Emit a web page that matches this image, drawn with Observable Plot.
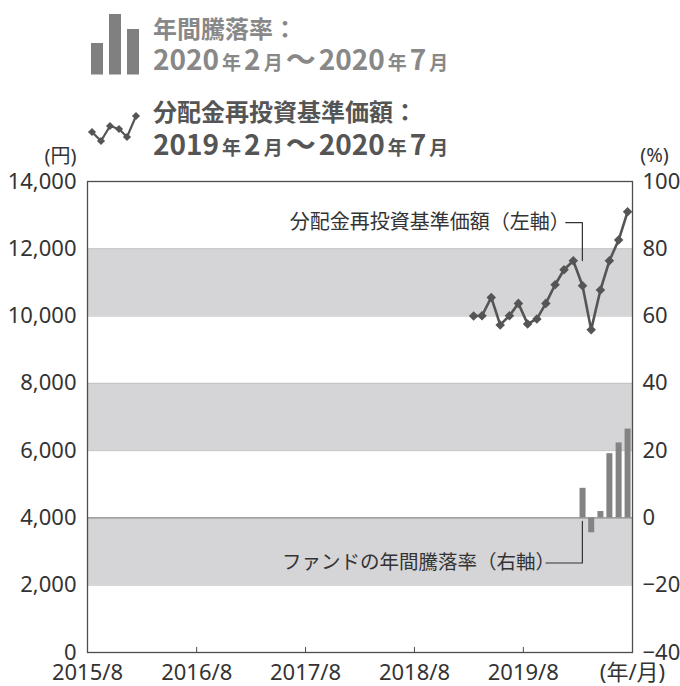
<!DOCTYPE html>
<html>
<head>
<meta charset="utf-8">
<script src="https://cdn.jsdelivr.net/npm/d3@7"></script>
<script src="https://cdn.jsdelivr.net/npm/@observablehq/plot@0.6"></script>
<style>
  html, body { margin: 0; padding: 0; background: #fff; }
  #wrap { position: relative; width: 680px; height: 686px; }
  #legend { position: absolute; left: 0; top: 0; pointer-events: none; }
</style>
</head>
<body>
<div id="wrap"></div>
<script>
// ---------- data ----------
const navMonths = ["2019/2","2019/3","2019/4","2019/5","2019/6","2019/7","2019/8","2019/9","2019/10","2019/11","2019/12","2020/1","2020/2","2020/3","2020/4","2020/5","2020/6","2020/7"];
const navValues = [10000, 10010, 10555, 9736, 10012, 10377, 9765, 9914, 10377, 10932, 11377, 11644, 10902, 9596, 10775, 11644, 12259, 13099];
const returnMonths = ["2020/2","2020/3","2020/4","2020/5","2020/6","2020/7"];
const returnValues = [8.8, -4.4, 1.9, 19.1, 22.3, 26.4];
const yenTicks = [0, 2000, 4000, 6000, 8000, 10000, 12000, 14000];
const pctTicks = [-40, -20, 0, 20, 40, 60, 80, 100];
const xTickMonths = ["2015/8","2016/8","2017/8","2018/8","2019/8","2020/8"];
const xTickLabels = ["2015/8","2016/8","2017/8","2018/8","2019/8","(年/月)"];
const bandRanges = [[2000, 4000], [6000, 8000], [10000, 12000]];
const navNote = {text: "分配金再投資基準価額（左軸）", textEnd: "2019-12-21", bend: "2020-02-15", y: 12780, yEnd: 11650};
const retNote = {text: "ファンドの年間騰落率（右軸）", textEnd: "2019-10-16", bend: "2020-02-15", y: 2660, yEnd: 3900};

// ---------- helpers ----------
const monthStart = s => { const [y, m] = s.split("/").map(Number); return new Date(Date.UTC(y, m - 1, 1)); };
const monthMid = s => { const [y, m] = s.split("/").map(Number); return new Date(Date.UTC(y, m - 1, 15, 12)); };
// right axis (%) mapped onto left axis (yen): -40% -> 0, 100% -> 14000
const pctToYen = p => (p + 40) * 100;
const fmtSigned = v => (v < 0 ? "\u2212" + Math.abs(v) : String(v));

const nav = navMonths.map((m, i) => ({date: monthMid(m), value: navValues[i]}));
const rets = returnMonths.map((m, i) => ({date: monthMid(m), pct: returnValues[i]}));
const xTicks = xTickMonths.map(monthStart);
const xLabelOf = new Map(xTicks.map((d, i) => [+d, xTickLabels[i]]));
const pctLabelOf = new Map(yenTicks.map((y, i) => [y, fmtSigned(pctTicks[i])]));
const fmtYen = d3.format(",");

const FONT = "'Noto Sans', 'Noto Sans CJK JP', sans-serif";
const CJK = "'Noto Sans CJK JP', 'Noto Sans', sans-serif";

const chart = Plot.plot({
  width: 680,
  height: 686,
  marginLeft: 87,
  marginRight: 48,
  marginTop: 181,
  marginBottom: 34,
  style: {fontFamily: FONT, fontSize: "22px", color: "#333", background: "transparent"},
  x: {type: "utc", domain: [monthStart("2015/8"), monthStart("2020/8")]},
  y: {domain: [0, 14000]},
  marks: [
    Plot.rectY(bandRanges, {y1: d => d[0], y2: d => d[1], fill: "#d5d5d7"}),
    Plot.ruleY(bandRanges.flat().filter(v => v !== pctToYen(0)), {stroke: "#c2c2c4", strokeWidth: 1}),
    Plot.ruleY([pctToYen(0)], {stroke: "#8c8c8c", strokeWidth: 1.2}),
    Plot.ruleX(xTicks.slice(1, 5), {y1: 0, y2: 150, stroke: "#4d4d4d", strokeWidth: 1}),
    Plot.ruleX(rets, {x: "date", y1: pctToYen(0), y2: d => pctToYen(d.pct), stroke: "#838383", strokeWidth: 6}),
    Plot.line(nav, {x: "date", y: "value", stroke: "#555", strokeWidth: 2.6}),
    Plot.dot(nav, {x: "date", y: "value", symbol: "diamond2", r: 4.3, fill: "#555", stroke: "none"}),
    // annotations
    Plot.line([[new Date(navNote.textEnd), navNote.y], [new Date(navNote.bend), navNote.y], [new Date(navNote.bend), navNote.yEnd]],
      {stroke: "#333", strokeWidth: 1.2}),
    Plot.text([navNote], {x: d => new Date(d.textEnd), y: "y", text: "text", textAnchor: "end", dx: 4, fontSize: 20, fill: "#333", fontFamily: CJK}),
    Plot.line([[new Date(retNote.textEnd), retNote.y], [new Date(retNote.bend), retNote.y], [new Date(retNote.bend), retNote.yEnd]],
      {stroke: "#333", strokeWidth: 1.2}),
    Plot.text([retNote], {x: d => new Date(d.textEnd), y: "y", text: "text", textAnchor: "end", dx: 9, fontSize: 19.5, fill: "#333", fontFamily: CJK}),
    Plot.frame({stroke: "#4d4d4d", strokeWidth: 1.3}),
    Plot.axisY({anchor: "left", ticks: yenTicks, tickSize: 0, tickPadding: 11, tickFormat: fmtYen, label: null}),
    Plot.axisY({anchor: "right", ticks: yenTicks, tickSize: 0, tickPadding: 10, tickFormat: d => pctLabelOf.get(d), label: null, textAnchor: "start"}),
    Plot.axisX({ticks: xTicks, tickSize: 0, tickPadding: 12, tickFormat: d => xLabelOf.get(+d), label: null}),
    Plot.text(["(円)"], {frameAnchor: "top-left", dx: -27, dy: -33, fontSize: 20, fill: "#333", textAnchor: "middle"}),
    Plot.text(["(%)"], {frameAnchor: "top-right", dx: 22, dy: -34, fontSize: 20, fill: "#333", textAnchor: "middle"})
  ]
});

const wrap = document.getElementById("wrap");
wrap.appendChild(chart);

// ---------- legend overlay ----------
const svg = d3.select(wrap).append("svg")
  .attr("id", "legend").attr("width", 680).attr("height", 170)
  .style("font-family", CJK);

const barIcon = [[91, 43], [109, 14], [127, 29]];
svg.selectAll("rect.icon").data(barIcon).join("rect")
  .attr("x", d => d[0]).attr("y", d => d[1]).attr("width", 12).attr("height", d => 74.5 - d[1])
  .attr("fill", "#808080");

const lineIcon = [[92, 132], [101, 141], [110, 126], [119, 129], [127, 137], [136, 116]];
svg.append("path").attr("d", d3.line()(lineIcon)).attr("fill", "none").attr("stroke", "#555").attr("stroke-width", 2.2);
svg.selectAll("path.dia").data(lineIcon).join("path")
  .attr("transform", d => `translate(${d[0]},${d[1]})`)
  .attr("d", d3.symbol(d3.symbolDiamond2, 42)())
  .attr("fill", "#555");

function legendLine(y, parts, color) {
  const t = svg.append("text").attr("x", 153).attr("y", y).attr("fill", color).attr("font-weight", "bold");
  parts.forEach(([s, size], i) => t.append("tspan").attr("font-size", size).attr("dx", i ? 3 : 0).text(s));
}
const big = 28, small = 19, wave = 30;
legendLine(38, [["年間騰落率：", 24]], "#888");
legendLine(70, [["2020", big], ["年", small], ["2", big], ["月", small], ["～", wave], ["2020", big], ["年", small], ["7", big], ["月", small]], "#888");
legendLine(121, [["分配金再投資基準価額：", 24]], "#555");
legendLine(155, [["2019", big], ["年", small], ["2", big], ["月", small], ["～", wave], ["2020", big], ["年", small], ["7", big], ["月", small]], "#555");
</script>
</body>
</html>
